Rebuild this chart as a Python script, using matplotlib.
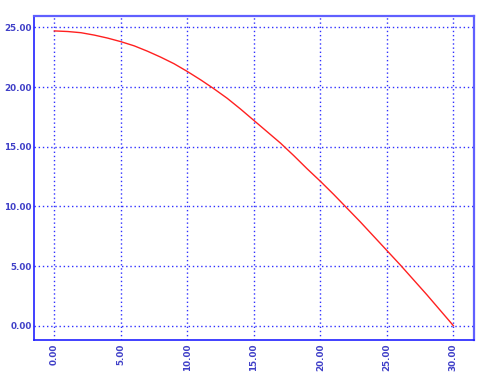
import matplotlib
matplotlib.use("Agg")
import matplotlib.pyplot as plt

x_values = list(range(0, 31))
y_values = [24.70, 24.65, 24.55, 24.35, 24.10, 23.80, 23.45, 23.00, 22.50, 21.95,
            21.30, 20.60, 19.85, 19.05, 18.15, 17.20, 16.25, 15.30, 14.25, 13.15,
            12.10, 11.00, 9.85, 8.70, 7.50, 6.30, 5.10, 3.85, 2.60, 1.30, 0.00]
x_ticks = [0, 5, 10, 15, 20, 25, 30]
y_ticks = [0, 5, 10, 15, 20, 25]

fig = plt.figure(figsize=(4.9, 3.75), dpi=100)
ax = fig.add_axes([34/490, 1-340/375, (474-34)/490, (340-16)/375])

ax.plot(x_values, y_values, color="#ff2020", lw=1.0)

ax.set_xlim(-1.53, 31.55)
ax.set_ylim(-1.2, 25.95)
ax.set_xticks(x_ticks)
ax.set_yticks(y_ticks)
ax.set_xticklabels([f"{v:.2f}" for v in x_ticks], rotation=90)
ax.set_yticklabels([f"{v:.2f}" for v in y_ticks])
ax.tick_params(length=0, labelsize=6.3, labelcolor="#4040c8")
ax.tick_params(axis="y", pad=1.5)
ax.tick_params(axis="x", pad=2.5)
for lab in ax.get_xticklabels() + ax.get_yticklabels():
    lab.set_fontweight("bold")

ax.grid(True, color="#3030ff", linestyle=(0, (1, 2)), lw=1.0)

for s in ["left", "bottom"]:
    ax.spines[s].set_color("#2020ff")
    ax.spines[s].set_linewidth(1.2)
for s in ["top", "right"]:
    ax.spines[s].set_color("#6060ff")
    ax.spines[s].set_linewidth(1.6)

fig.savefig("out.png", dpi=100)
